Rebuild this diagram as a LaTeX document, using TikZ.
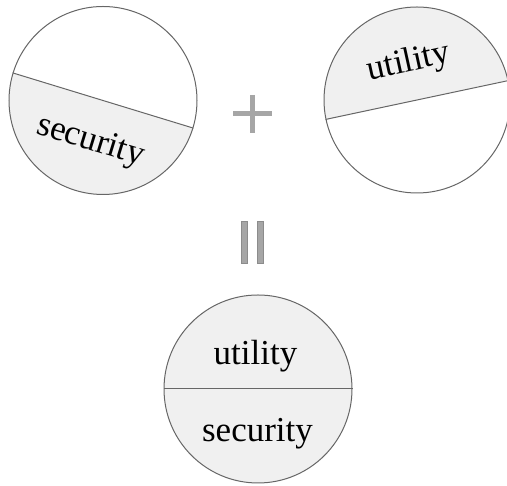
\documentclass[tikz,border=0pt]{standalone}
\usepackage{fontspec}
\setmainfont{Liberation Serif}
\usetikzlibrary{calc}
\definecolor{halffill}{HTML}{F0F0F0}
\definecolor{rim}{HTML}{666666}
\definecolor{opgray}{HTML}{A6A6A6}
\definecolor{baredge}{HTML}{8C8C8C}
\tikzset{
  disc/.style={circle, draw=rim, line width=1pt, inner sep=0pt, minimum size=188pt},
  divider/.style={draw=rim, line width=1pt},
  word/.style={font=\fontsize{35}{40}\selectfont, inner sep=0pt, text=black},
  operator/.style={draw=opgray, line width=5pt},
  bar/.style={fill=opgray, draw=baredge, line width=0.6pt}
}
\begin{document}
\begin{tikzpicture}[x=1pt,y=1pt]
\useasboundingbox (0,0) rectangle (507,486);

% left disc: lower half shaded
\coordinate (c1) at (103,385.5);
\fill[halffill] (c1) ++(-17:94) arc[start angle=-17,end angle=-197,radius=94] -- cycle;
\node[disc] (left) at (c1) {};
\draw[divider] (left.163) -- (left.-17);
\node[word, rotate=-17] (secL) at ($(c1)+(-107:43.5)$) {security};

% right disc: upper half shaded
\coordinate (c2) at (417,386);
\fill[halffill] (c2) ++(12.4:93) arc[start angle=12.4,end angle=192.4,radius=93] -- cycle;
\node[disc, minimum size=186pt] (right) at (c2) {};
\draw[divider] (right.192.4) -- (right.12.4);
\node[word, rotate=12.4] (utiR) at ($(c2)+(102.4:38)$) {utility};

% plus sign
\draw[operator] (233,372) -- (272,372) (252.5,391) -- (252.5,353);

% equals sign, set vertically
\filldraw[bar] (241.7,222.7) rectangle (247.7,264.3);
\filldraw[bar] (257.3,222.7) rectangle (263.3,264.3);

% combined disc
\coordinate (c3) at (258,97);
\node[disc, fill=halffill] (bottom) at (c3) {};
\draw[divider] (bottom.west) -- (bottom.east);
\node[word] (utiB) at (255.5,130) {utility};
\node[word] (secB) at (257.5,52.5) {security};
\end{tikzpicture}
\end{document}
